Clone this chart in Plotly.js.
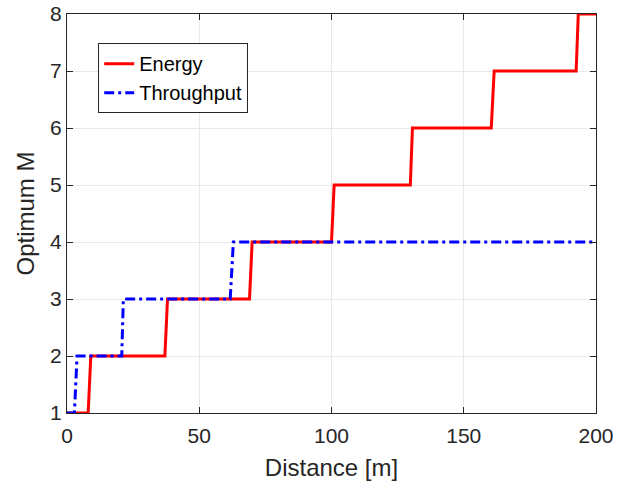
<!DOCTYPE html>
<html>
<head>
<meta charset="utf-8">
<script src="https://cdn.plot.ly/plotly-3.0.1.min.js"></script>
<style>html,body{margin:0;padding:0;background:#fff;}#chart{width:636px;height:491px;}</style>
</head>
<body>
<div id="chart"></div>
<script>
// Energy-optimal M vs distance (step curve vertices)
const energyX = [0, 8, 9, 37, 38, 69, 70, 100, 101, 129.8, 130.6, 160.4, 161.5, 192.5, 193.3, 200];
const energyY = [1, 1, 2, 2, 3, 3, 4, 4, 5, 5, 6, 6, 7, 7, 8, 8];
// Throughput-optimal M vs distance
const throughputX = [0, 2.8, 3.8, 20.7, 21.3, 61.7, 62.9, 200];
const throughputY = [1, 1, 2, 2, 3, 3, 4, 4];
const xTicks = [0, 50, 100, 150, 200];
const yTicks = [1, 2, 3, 4, 5, 6, 7, 8];

const font = 'Liberation Sans, Arial, sans-serif';
const traces = [
  {x: energyX, y: energyY, name: 'Energy', mode: 'lines', type: 'scatter',
   line: {color: '#ff0000', width: 3}},
  {x: throughputX, y: throughputY, name: 'Throughput', mode: 'lines', type: 'scatter',
   line: {color: '#0000ff', width: 3, dash: '10px,4px,3px,4px'}}
];
const axisCommon = {
  showline: true, linecolor: '#262626', linewidth: 1, mirror: 'ticks',
  ticks: 'inside', ticklen: 6, tickcolor: '#262626',
  showgrid: true, gridcolor: '#e8e8e8', gridwidth: 1, zeroline: false,
  tickfont: {family: font, size: 21, color: '#262626'}
};
const layout = {
  width: 636, height: 491,
  margin: {l: 67, r: 40, t: 14, b: 78},
  paper_bgcolor: '#ffffff', plot_bgcolor: '#ffffff',
  showlegend: true,
  legend: {x: 0.059, y: 0.927, xanchor: 'left', yanchor: 'top',
    bgcolor: '#ffffff', bordercolor: '#262626', borderwidth: 1,
    font: {family: font, size: 20, color: '#000000'}, tracegroupgap: 0},
  xaxis: Object.assign({}, axisCommon, {range: [0, 200], tickvals: xTicks, ticklabelstandoff: 4,
    title: {text: 'Distance [m]', font: {family: font, size: 24, color: '#262626'}, standoff: 12}}),
  yaxis: Object.assign({}, axisCommon, {range: [1, 8], tickvals: yTicks,
    title: {text: 'Optimum M', font: {family: font, size: 24, color: '#262626'}, standoff: 8}})
};
Plotly.newPlot('chart', traces, layout, {displayModeBar: false, staticPlot: true});
</script>
</body>
</html>
